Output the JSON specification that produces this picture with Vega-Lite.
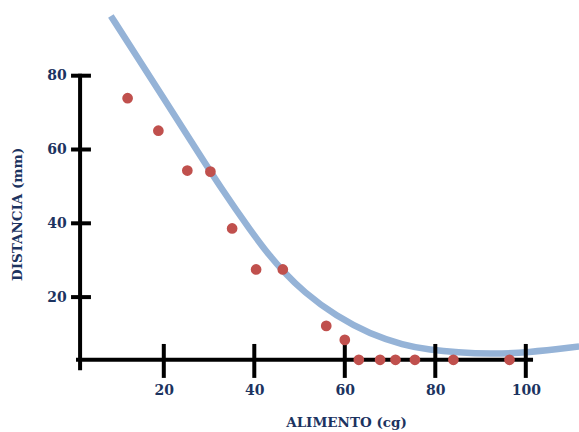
{
  "$schema": "https://vega.github.io/schema/vega-lite/v6.json",
  "width": 506.8,
  "height": 369,
  "autosize": {"type": "none"},
  "padding": {"left": 73.3, "top": 1.9, "right": 0, "bottom": 61.1},
  "background": "white",
  "config": {"view": {"stroke": null}},
  "datasets": {
    "curve": [
      {"x": 8.3, "y": 96.2}, {"x": 14, "y": 85.3}, {"x": 20, "y": 73.8},
      {"x": 26, "y": 62.3}, {"x": 32.8, "y": 49.2}, {"x": 39.3, "y": 37.8},
      {"x": 43.5, "y": 31.0}, {"x": 46.4, "y": 27.0}, {"x": 50.8, "y": 21.5},
      {"x": 58.2, "y": 14.7}, {"x": 65.6, "y": 10.0}, {"x": 72.9, "y": 7.0},
      {"x": 78.8, "y": 5.7}, {"x": 85, "y": 5.0}, {"x": 92.1, "y": 4.6},
      {"x": 100.2, "y": 4.9}, {"x": 111.8, "y": 6.6}
    ],
    "points": [
      {"x": 12.0, "y": 73.9}, {"x": 18.8, "y": 65.1}, {"x": 25.2, "y": 54.3},
      {"x": 30.3, "y": 54.0}, {"x": 35.1, "y": 38.6}, {"x": 40.4, "y": 27.5},
      {"x": 46.3, "y": 27.5}, {"x": 55.9, "y": 12.2}, {"x": 60.0, "y": 8.4},
      {"x": 63.1, "y": 3}, {"x": 67.8, "y": 3}, {"x": 71.2, "y": 3},
      {"x": 75.5, "y": 3}, {"x": 84.0, "y": 3}, {"x": 96.4, "y": 3}
    ],
    "rules": [
      {"x": 0.6, "x2": 101.6, "y": 3, "y2": 3},
      {"x": 1.5, "x2": 1.5, "y": 80.5, "y2": 0.2},
      {"x": 20, "x2": 20, "y": -1.9, "y2": 7.3},
      {"x": 40, "x2": 40, "y": -1.9, "y2": 7.3},
      {"x": 60, "x2": 60, "y": -1.9, "y2": 7.3},
      {"x": 80, "x2": 80, "y": -1.9, "y2": 7.3},
      {"x": 100, "x2": 100, "y": -1.9, "y2": 7.3},
      {"x": -0.5, "x2": 3.9, "y": 20, "y2": 20},
      {"x": -0.5, "x2": 3.9, "y": 40, "y2": 40},
      {"x": -0.5, "x2": 3.9, "y": 60, "y2": 60},
      {"x": -0.5, "x2": 3.9, "y": 80, "y2": 80}
    ]
  },
  "encoding": {
    "x": {
      "field": "x", "type": "quantitative",
      "scale": {"domain": [0, 112], "nice": false, "zero": false},
      "axis": {
        "values": [20, 40, 60, 80, 100], "domain": false, "ticks": false, "grid": false,
        "labelFont": "DejaVu Serif", "labelFontWeight": "bold", "labelFontSize": 14,
        "labelColor": "#1C3360", "labelPadding": 13, "labelFlush": false,
        "title": "ALIMENTO (cg)", "titleFont": "DejaVu Serif", "titleFontWeight": "bold",
        "titleFontSize": 13.5, "titleColor": "#1C3360", "titleX": 272.7, "titleY": 52,
        "titleBaseline": "middle", "titleAlign": "center"
      }
    },
    "y": {
      "field": "y", "type": "quantitative",
      "scale": {"domain": [0, 100], "nice": false, "zero": false},
      "axis": {
        "values": [20, 40, 60, 80], "domain": false, "ticks": false, "grid": false,
        "labelFont": "DejaVu Serif", "labelFontWeight": "bold", "labelFontSize": 14,
        "labelColor": "#1C3360", "labelPadding": 7, "labelFlush": false,
        "title": "DISTANCIA (mm)", "titleFont": "DejaVu Serif", "titleFontWeight": "bold",
        "titleFontSize": 13.5, "titleColor": "#1C3360", "titleX": -55.3, "titleY": 212,
        "titleBaseline": "middle", "titleAlign": "center"
      }
    }
  },
  "layer": [
    {
      "data": {"name": "curve"},
      "mark": {"type": "line", "color": "#95B3D7", "strokeWidth": 6.5, "interpolate": "basis", "clip": false}
    },
    {
      "data": {"name": "rules"},
      "mark": {"type": "rule", "color": "black", "strokeWidth": 4, "clip": false},
      "encoding": {"x2": {"field": "x2"}, "y2": {"field": "y2"}}
    },
    {
      "data": {"name": "points"},
      "mark": {"type": "circle", "color": "#C0504D", "size": 115, "opacity": 1, "clip": false}
    }
  ]
}
